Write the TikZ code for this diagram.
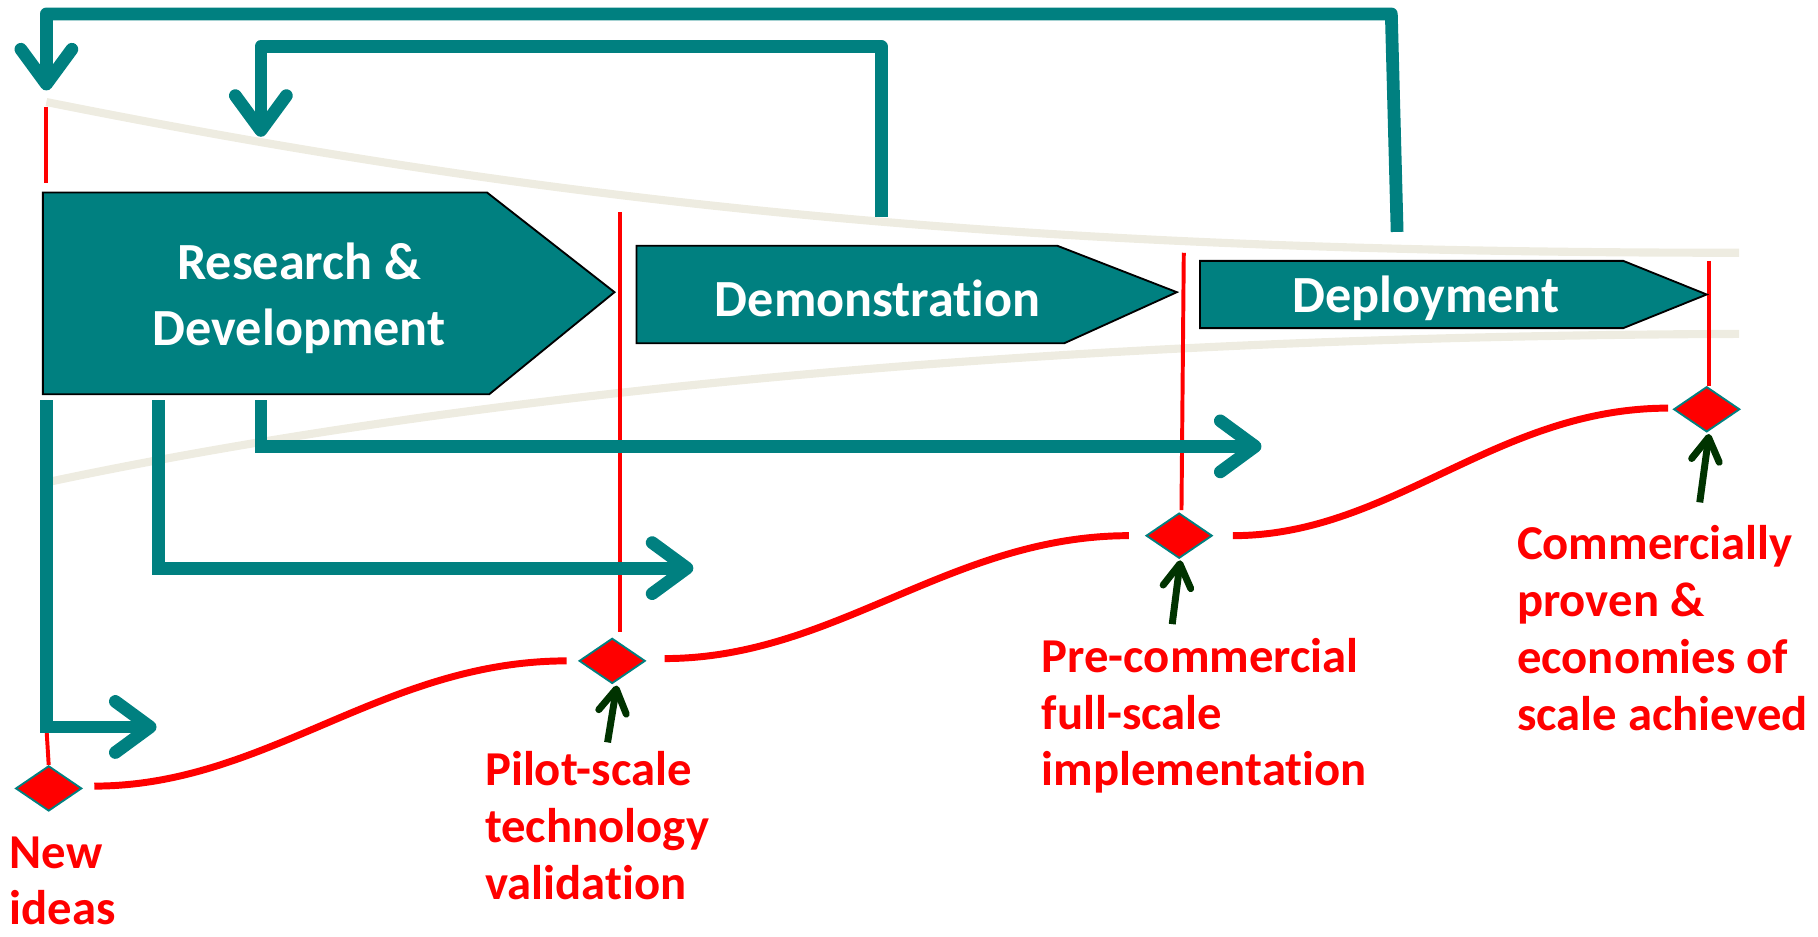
\documentclass[tikz,border=0pt]{standalone}
\usepackage{fontspec}
\setmainfont[Ligatures={NoCommon}]{Carlito}
\usepackage{xcolor}
\usetikzlibrary{arrows.meta,shapes.geometric,calc}

\definecolor{stagecol}{HTML}{008080}
\definecolor{funnelcol}{HTML}{EEECE1}
\definecolor{pointcol}{HTML}{003300}

\tikzset{
    stage/.style={fill=stagecol, draw=black, line width=0.8pt},
    stagetext/.style={text=white, font=\fontsize{22.5}{28.5}\selectfont\bfseries, align=center},
    funnel/.style={draw=funnelcol, line width=3.5pt},
    gate/.style={draw=red, line width=1.7pt},
    trend/.style={draw=red, line width=3pt},
    milestone/.style={diamond, fill=red, draw=stagecol, line width=0.8pt, minimum width=28.5pt, minimum height=19.5pt, inner sep=0pt},
    mslabel/.style={text=red, font=\fontsize{21}{24.5}\selectfont\bfseries, align=left, anchor=north west, inner sep=0pt},
    feedback/.style={draw=stagecol, line width=5.5pt, line join=round, -{Straight Barb[length=15pt,width=22pt,round]}},
    spinoff/.style={draw=stagecol, line width=5.5pt, -{Straight Barb[length=15pt,width=22pt,round]}},
    upar/.style={draw=pointcol, line width=3pt, -{Straight Barb[length=10pt,width=12pt,round]}}
}

\begin{document}
\begin{tikzpicture}[x=0.5pt, y=-0.5pt]
    \useasboundingbox (0,0) rectangle (1568,808);

    % Funnel outline
    \draw[funnel] (40,88) .. controls (500,180) and (900,218) .. (1500,218);
    \draw[funnel] (45,415) .. controls (400,340) and (900,290) .. (1500,288);

    % Milestones
    \node[milestone] (m0) at (42,680) {};
    \node[milestone] (m1) at (528,570) {};
    \node[milestone] (m2) at (1017,462) {};
    \node[milestone] (m3) at (1472,353) {};

    % Stage gates
    \draw[gate] (40,92) -- (40,158);
    \draw[gate] (40,627) -- (m0.north);
    \draw[gate] (535,183) -- (535,545);
    \draw[gate] (1021,218) -- (1019,440);
    \draw[gate] (1474,225) -- (1474,333);

    % Stages
    \draw[stage] (37,166) -- (420,166) -- (530,252) -- (422,340) -- (37,340) -- cycle;
    \draw[stage] (549,212) -- (912,212) -- (1015,252) -- (918,296) -- (549,296) -- cycle;
    \draw[stage] (1035,225) -- (1400,225) -- (1472,254) -- (1400,283) -- (1035,283) -- cycle;
    \node[stagetext] (rd) at (258,257) {Research \&\\Development};
    \node[stagetext] (demo) at (757,257) {Demonstration};
    \node[stagetext] (depl) at (1230,257) {Deployment};

    % Feedback loops
    \coordinate (demoOut) at (760,187);
    \coordinate (deplOut) at (1205,200);
    \coordinate (ideaIn) at (40,78);
    \coordinate (rdIn) at (225,118);
    \draw[feedback] (deplOut) -- (1200,12) -| (ideaIn);
    \draw[feedback] (demoOut) -- (760,40) -| (rdIn);

    % Spin-offs from R&D
    \foreach \sx/\ex/\ey in {40/135/627, 137/598/490, 225/1088/385} {
        \coordinate (out\sx) at (\sx,345);
        \coordinate (end\sx) at (\ex,\ey);
        \draw[spinoff] (out\sx) |- (end\sx);
    }

    % Maturity curve
    \draw[trend] ($(m0.east)+(10,-2)$) .. controls (230,678) and (330,570) .. ($(m1.west)+(-10,0)$);
    \draw[trend] ($(m1.east)+(16,-2)$) .. controls (720,568) and (820,462) .. ($(m2.west)+(-14,0)$);
    \draw[trend] ($(m2.east)+(17,0)$) .. controls (1200,462) and (1290,352) .. ($(m3.west)+(-4,-1)$);

    % Milestone labels
    \node[mslabel] (l0) at (8,721) {New\\ideas};
    \node[mslabel] (l1) at (418,648) {Pilot-scale\\technology\\validation};
    \node[mslabel] (l2) at (898,550) {Pre-commercial\\full-scale\\implementation};
    \node[mslabel] (l3) at (1308,453) {Commercially\\proven \&\\economies of\\scale achieved};

    \draw[upar] ($(m1.south)+(-4,50)$) -- ($(m1.south)+(4,1)$);
    \draw[upar] ($(m2.south)+(-6,56)$) -- ($(m2.south)+(1,1)$);
    \draw[upar] ($(m3.south)+(-6,60)$) -- ($(m3.south)+(2,1)$);
\end{tikzpicture}
\end{document}
